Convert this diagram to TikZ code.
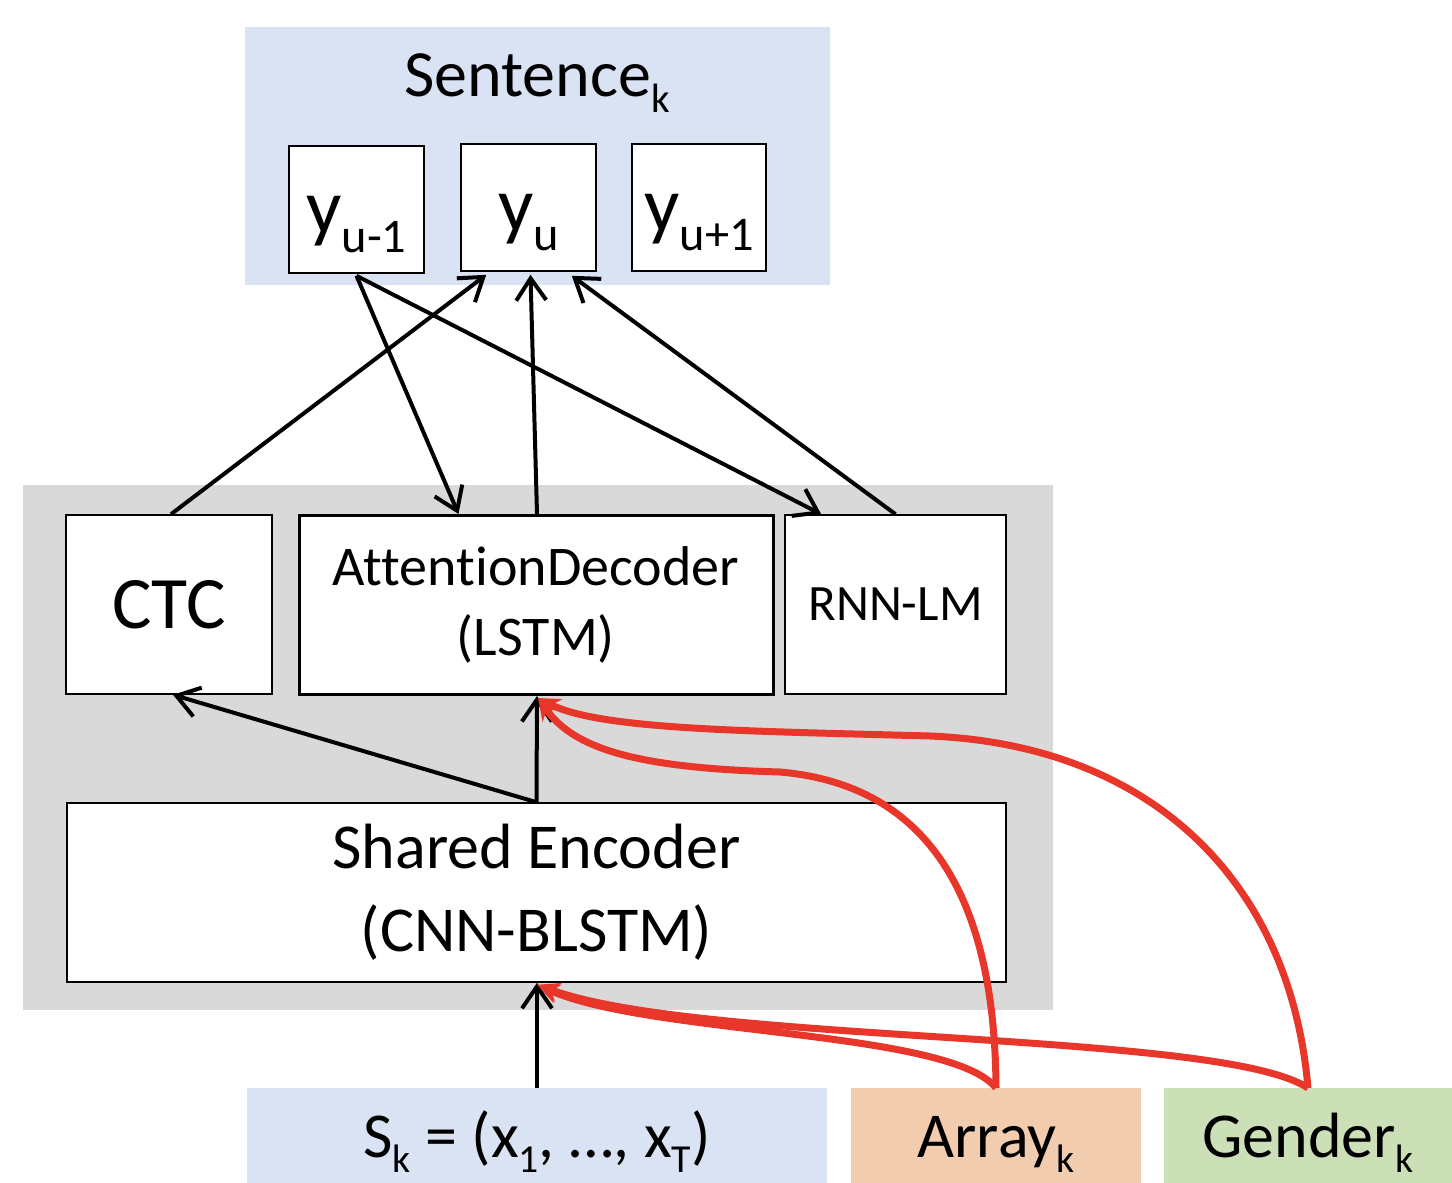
\documentclass[tikz,border=0pt]{standalone}
\usepackage{fontspec}
\setmainfont{Carlito}[Ligatures=CommonOff]
\usepackage{graphicx}
\usepackage{tikz}
\usetikzlibrary{arrows.meta,calc}

\definecolor{bandblue}{HTML}{DAE3F3}
\definecolor{bandgray}{HTML}{D9D9D9}
\definecolor{arrpeach}{HTML}{F2CCAF}
\definecolor{gengreen}{HTML}{CCE0B8}
\definecolor{condred}{HTML}{E8372A}

\newcommand\lowsub[1]{\raisebox{-0.24em}{\scalebox{0.62}{#1}}}
\newcommand\fs[1]{\fontsize{#1}{1.17\dimexpr#1pt\relax}\selectfont}

\begin{document}
\begin{tikzpicture}[x=0.5pt,y=-0.5pt,
	band/.style={inner sep=0pt, outer sep=0pt},
	box/.style={draw, fill=white, line width=0.8pt, inner sep=0pt, align=center},
	token/.style={box, minimum width=67.5pt, minimum height=63.5pt, font=\fs{39}, text height=24pt, text depth=0pt},
	input/.style={band, minimum height=47.5pt, font=\fs{32}, text height=22pt, text depth=0pt},
	flow/.style={line width=2pt, -{Straight Barb[length=11pt,width=15pt,line width=2pt]}},
	cond/.style={condred, line width=3.5pt, -{Stealth[length=11pt,width=10pt]}}]
	\useasboundingbox (0,0) rectangle (1452,1183);
	% backgrounds
	\node[band, fill=bandblue, minimum width=292.5pt, minimum height=129pt] (sentband) at (537.5,156) {};
	\node[band, fill=bandgray, minimum width=515pt, minimum height=262.5pt] (netband) at (538,747.5) {};
	\node[font=\fs{33}] (senttitle) at (537,83) {Sentence\lowsub{k}};
	% output tokens
	\node[token] (ym1) at (356.5,209.5) {y\lowsub{u-1}};
	\node[token] (yu) at (528.5,207.5) {y\lowsub{u}};
	\node[token, minimum width=67pt] (yp1) at (699,207.5) {y\lowsub{u+1}};
	% network
	\node[box, minimum width=103pt, minimum height=89.5pt, font=\fs{37}] (ctc) at (169,604.5) {CTC};
	\node[box, line width=1.5pt, minimum width=237pt, minimum height=89.5pt, font=\fs{28}] (att) at (536,605) {AttentionDecoder\\[2pt](LSTM)};
	\node[box, minimum width=110.5pt, minimum height=89.5pt, font=\fs{25.5}] (rnn) at (895.5,604.5) {RNN-LM};
	\node[box, minimum width=469.5pt, minimum height=89.5pt, font=\fs{32}] (enc) at (536.5,892.5) {Shared Encoder\\[4pt](CNN-BLSTM)};
	% inputs
	\node[input, fill=bandblue, minimum width=290pt] (sk) at (537,1135.5) {S\lowsub{k} = (x\lowsub{1}, …, x\lowsub{T})};
	\node[input, fill=arrpeach, minimum width=145pt] (arr) at (996,1135.5) {Array\lowsub{k}};
	\node[input, fill=gengreen, minimum width=144pt] (gen) at (1308,1135.5) {Gender\lowsub{k}};
	% connectors
	\draw[flow] ($(ctc.north)+(2,0)$) -- ($(yu.south west)+(26,3)$);
	\draw[flow] ($(ym1.south)+(0,2)$) -- ($(att.north west)+(161,0)$);
	\draw[flow] ($(ym1.south)+(0,2)$) -- ($(rnn.north west)+(37,0)$);
	\draw[flow] ($(att.north)+(1,0)$) -- ($(yu.south)+(2,3)$);
	\draw[flow] (rnn.north) -- ($(yu.south east)+(-25,4)$);
	\draw[flow] (enc.north) -- ($(ctc.south)+(4,0)$);
	\draw[flow] (enc.north) -- ($(att.south)+(1,0)$);
	\draw[flow] (sk.north) -- ($(enc.south)+(0.5,0)$);
	% conditioning
	\draw[cond] (arr.north) .. controls (995,900) and (930,785) .. (780,772)
		.. controls (640,768) and (575,750) .. ($(att.south)+(2,2)$);
	\draw[cond] (gen.north) .. controls (1290,880) and (1150,745) .. (930,736)
		.. controls (750,731) and (600,730) .. ($(att.south)+(2,2)$);
	\draw[cond] (arr.north) .. controls (950,1030) and (650,1035) .. ($(enc.south)+(1,2)$);
	\draw[cond] (gen.north) .. controls (1220,1030) and (700,1045) .. ($(enc.south)+(1,2)$);
\end{tikzpicture}
\end{document}
